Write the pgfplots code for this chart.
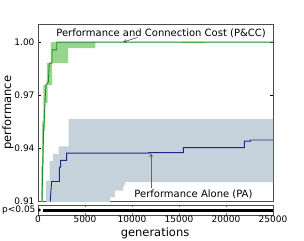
\documentclass[border=0pt]{standalone}
\usepackage{fontspec}
\setmainfont{DejaVu Sans}
\usepackage{pgfplots}
\pgfplotsset{compat=1.18}
\definecolor{pgreen}{RGB}{30,140,40}
\definecolor{pgband}{RGB}{150,214,140}
\definecolor{pblue}{RGB}{30,40,130}
\definecolor{pbband}{RGB}{197,210,220}
\begin{document}
\begin{tikzpicture}
\path[use as bounding box] (-38pt,-38.5pt) rectangle (266pt,201.5pt);
\begin{axis}[at={(0pt,0pt)}, anchor=south west, width=235pt, height=177.5pt, scale only axis,
  xmin=0, xmax=25000, ymin=0.91, ymax=1.0102, clip mode=individual,
  xtick=\empty, ytick={0.91,0.94,0.97,1.00}, yticklabels={0.91,0.94,0.97,1.00},
  scaled x ticks=false, scaled y ticks=false,
  major tick length=3pt, tick style={black},
  tick label style={font=\fontsize{9}{10}\selectfont},
  axis line style={black!70, line width=0.8pt},
  ylabel={performance},
  every axis y label/.style={at={(axis description cs:-0.128,0.5)}, rotate=90, anchor=center, font=\fontsize{11.5}{13}\selectfont},
]
% PA band
\addplot[fill=pbband, draw=none] coordinates {
(850,0.90)(850,0.9217)(1245,0.9217)(1245,0.933)(1600,0.933)(1600,0.9368)(2200,0.9368)(2200,0.9411)(3270,0.9411)(3270,0.9566)(25000,0.9566)
(25000,0.9209)(9250,0.9209)(9250,0.919)(9070,0.919)(9070,0.9162)(8190,0.9162)(8190,0.9124)(7660,0.9124)(7660,0.90)
} -- cycle;
% PCC band
\addplot[fill=pgband, draw=none] coordinates {
(350,0.90)(350,0.93)(450,0.93)(450,0.955)(560,0.955)(560,0.9758)(950,0.9758)(950,0.9881)(1380,0.9881)(1380,1.0)(25000,1.0)
(25000,1.0)(17700,1.0)(17700,0.9994)(15300,0.9994)(15300,1.0)(6100,1.0)(6100,0.9966)(3200,0.9966)(3200,0.9881)(1490,0.9881)(1490,0.9758)(1030,0.9758)(1030,0.9655)(745,0.9655)(745,0.95)(600,0.95)(600,0.93)(540,0.93)(540,0.90)
} -- cycle;
% PA mean
\addplot[pblue, line width=0.9pt] coordinates {
(1250,0.90)(1300,0.91)(1450,0.9213)(2270,0.9213)(2270,0.9294)(2410,0.9294)(2410,0.9332)(3050,0.9332)(3050,0.9373)(11800,0.9373)(11800,0.9376)(15460,0.9376)(15460,0.9404)(21950,0.9404)(21950,0.9441)(22600,0.9441)(22600,0.9447)(25000,0.9447)
};
% PCC mean
\addplot[pgreen, line width=0.9pt] coordinates {
(400,0.90)(425,0.91)(500,0.93)(600,0.95)(680,0.958)(780,0.97)(850,0.9758)(1100,0.9775)(1200,0.9881)(1490,0.9881)(1490,0.9956)(1990,0.9956)(1990,1.0)(25000,1.0)
};
\draw[black!70, line width=0.6pt, ->, >=stealth] (axis cs:10600,1.0026) -- (axis cs:9040,1.0);
\node[font=\fontsize{10}{12}\selectfont] at (axis cs:13090,1.0049) {Performance and Connection Cost (P\&CC)};
\draw[black!60, line width=0.8pt, ->, >=stealth] (axis cs:12020,0.9174) -- (axis cs:12020,0.9373);
\node[font=\fontsize{10}{12}\selectfont] at (axis cs:16540,0.914) {Performance Alone (PA)};
\end{axis}
\begin{axis}[at={(0pt,-13.5pt)}, anchor=south west, width=235pt, height=10pt, scale only axis,
  xmin=0, xmax=25000, ymin=0, ymax=1,
  xtick={0,5000,10000,15000,20000,25000}, xticklabels={0,5000,10000,15000,20000,25000},
  scaled x ticks=false, scaled y ticks=false,
  ytick={0.5}, yticklabels={p<0.05},
  major tick length=2pt, xtick style={black!50}, ytick style={draw=none},
  tick label style={font=\fontsize{9}{10}\selectfont},
  xticklabel style={anchor=base, yshift=-7pt},
  yticklabel style={xshift=1pt},
  axis line style={black!70, line width=0.8pt},
  xlabel={generations},
  every axis x label/.style={at={(axis description cs:0.498,-2.12)}, anchor=base, font=\fontsize{11.5}{13}\selectfont},
]
\addplot[black, line width=3pt] coordinates {(500,0.5)(25000,0.5)};
\addplot[only marks, mark=*, mark size=1.2pt, black] coordinates {(150,0.5)};
\end{axis}
\end{tikzpicture}
\end{document}
